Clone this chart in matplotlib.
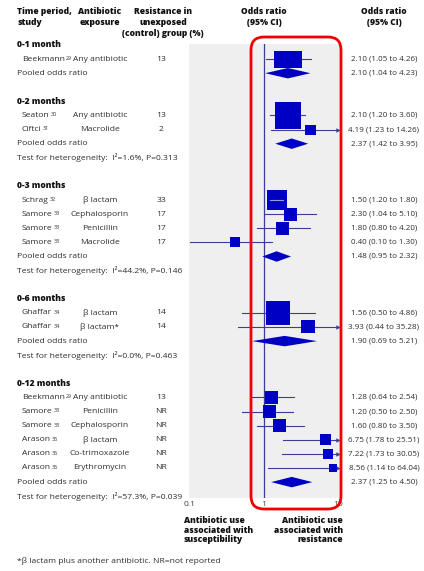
import matplotlib.pyplot as plt
import matplotlib.patches as mpatches
import matplotlib.transforms as mtransforms
from matplotlib.ticker import NullLocator

plt.rcParams['font.family'] = ['Open Sans', 'DejaVu Sans']

# individual studies
period = ['0-1 month',
          '0-2 months', '0-2 months',
          '0-3 months', '0-3 months', '0-3 months', '0-3 months',
          '0-6 months', '0-6 months',
          '0-12 months', '0-12 months', '0-12 months', '0-12 months', '0-12 months', '0-12 months']
study = ['Beekmann',
         'Seaton', 'Ciftci',
         'Schrag', 'Samore', 'Samore', 'Samore',
         'Ghaffar', 'Ghaffar',
         'Beekmann', 'Samore', 'Samore', 'Arason', 'Arason', 'Arason']
ref = ['29', '30', '31', '32', '33', '33', '33', '34', '34', '29', '33', '33', '36', '36', '36']
drug = ['Any antibiotic',
        'Any antibiotic', 'Macrolide',
        'β lactam', 'Cephalosporin', 'Penicillin', 'Macrolide',
        'β lactam', 'β lactam*',
        'Any antibiotic', 'Penicillin', 'Cephalosporin', 'β lactam', 'Co-trimoxazole', 'Erythromycin']
resist = ['13', '13', '2', '33', '17', '17', '17', '14', '14', '13', 'NR', 'NR', 'NR', 'NR', 'NR']
or_est = [2.10, 2.10, 4.19, 1.50, 2.30, 1.80, 0.40, 1.56, 3.93, 1.28, 1.20, 1.60, 6.75, 7.22, 8.56]
or_lo = [1.05, 1.20, 1.23, 1.20, 1.04, 0.80, 0.10, 0.50, 0.44, 0.64, 0.50, 0.80, 1.78, 1.73, 1.14]
or_hi = [4.26, 3.60, 14.26, 1.80, 5.10, 4.20, 1.30, 4.86, 35.28, 2.54, 2.50, 3.50, 25.51, 30.05, 64.04]

# pooled results per period
periods = ['0-1 month', '0-2 months', '0-3 months', '0-6 months', '0-12 months']
pool_est = [2.10, 2.37, 1.48, 1.90, 2.37]
pool_lo = [1.04, 1.42, 0.95, 0.69, 1.25]
pool_hi = [4.23, 3.95, 2.32, 5.21, 4.50]
het_i2 = [None, '1.6', '44.2', '0.0', '57.3']
het_p = [None, '0.313', '0.146', '0.463', '0.039']

# box sizes in pixels (study weight)
box_w = [28, 26, 11, 20, 13, 13, 10, 24, 14, 13, 13, 13, 11, 10, 8]
box_h = [17, 27, 10, 20, 13, 13, 10, 24, 13, 13, 13, 13, 11, 10, 8]

W, H = 424, 571
DEC = 74.0      # pixels per decade
ROW = 14.1      # pixels per row
BLUE = '#0000c4'
LINE = '#3d3d99'
TXT = '#2e2e2e'
FS = 6.1

fig = plt.figure(figsize=(W / 100, H / 100), dpi=100)
ax = fig.add_axes([189 / W, 1 - 498 / H, 151 / W, 454 / H])
ax.set_xscale('log')
ax.set_xlim(0.1 * 10 ** (-1 / DEC), 10 * 10 ** (2 / DEC))
ax.set_ylim((498 - 45) / ROW, (44 - 45) / ROW)
ax.set_facecolor('#efefef')
for s in ax.spines.values():
    s.set_visible(False)
ax.set_yticks([])
ax.set_xticks([0.1, 1, 10])
ax.set_xticklabels(['0.1', '1', '10'])
ax.xaxis.set_minor_locator(NullLocator())
ax.tick_params(axis='x', length=0, pad=2.5, labelsize=FS, labelcolor='#444')
ax.axvline(1, color=LINE, lw=0.9, zorder=1)

tx = mtransforms.blended_transform_factory(fig.transFigure, ax.transData)

# work out rows
rows_hdr, rows_study, rows_pool, rows_het = [], [], [], []
r = 0
for k, p in enumerate(periods):
    rows_hdr.append(r)
    r += 1
    for i in range(len(study)):
        if period[i] == p:
            rows_study.append(r)
            r += 1
    rows_pool.append(r)
    r += 1
    if het_i2[k] is not None:
        rows_het.append(r)
        r += 1
    r += 1

# period headers, pooled rows, heterogeneity rows
het_k = 0
for k, p in enumerate(periods):
    ax.text(17 / W, rows_hdr[k], p, transform=tx, fontsize=FS, fontweight=800,
            color='#111', va='center', ha='left')
    ax.text(17 / W, rows_pool[k], 'Pooled odds ratio', transform=tx, fontsize=FS,
            color=TXT, va='center', ha='left')
    ax.text(384 / W, rows_pool[k], f'{pool_est[k]:.2f} ({pool_lo[k]:.2f} to {pool_hi[k]:.2f})',
            transform=tx, fontsize=5.8, color=TXT, va='center', ha='center')
    yr = rows_pool[k]
    ax.fill([pool_lo[k], pool_est[k], pool_hi[k], pool_est[k]],
            [yr, yr - 0.37, yr, yr + 0.37], color=BLUE, lw=0, zorder=3)
    if het_i2[k] is not None:
        ax.text(17 / W, rows_het[het_k],
                f'Test for heterogeneity:  I²={het_i2[k]}%, P={het_p[k]}',
                transform=tx, fontsize=FS, color=TXT, va='center', ha='left')
        het_k += 1

# studies
for i in range(len(study)):
    yr = rows_study[i]
    t = ax.text(22 / W, yr, study[i], transform=tx, fontsize=FS, color=TXT,
                va='center', ha='left')
    ax.annotate(ref[i], xy=(1, 0.95), xycoords=t, xytext=(1, 0), textcoords='offset points',
                fontsize=3.9, color=TXT, va='top', ha='left')
    ax.text(100 / W, yr, drug[i], transform=tx, fontsize=FS, color=TXT, va='center', ha='center')
    ax.text(161 / W, yr, resist[i], transform=tx, fontsize=FS, color=TXT, va='center', ha='center')
    ax.text(384 / W, yr, f'{or_est[i]:.2f} ({or_lo[i]:.2f} to {or_hi[i]:.2f})',
            transform=tx, fontsize=5.8, color=TXT, va='center', ha='center')

    hi = min(or_hi[i], 10)
    ax.plot([or_lo[i], hi], [yr, yr], color=LINE, lw=0.8, zorder=2)
    if or_hi[i] > 10:
        ax.plot(10, yr, marker='>', ms=3.2, color=LINE, mew=0, zorder=2)
    hw = box_w[i] / 2 / DEC
    x0 = or_est[i] * 10 ** (-hw)
    x1 = or_est[i] * 10 ** hw
    hh = box_h[i] / 2 / ROW
    ax.add_patch(mpatches.Rectangle((x0, yr - hh), x1 - x0, 2 * hh, color=BLUE, lw=0, zorder=3))
    if or_lo[i] > x0 and or_hi[i] < x1:
        ax.plot([or_lo[i], or_hi[i]], [yr, yr], color='#9a9ad8', lw=0.8, zorder=4)

# column headers
hdr = dict(fontsize=FS, fontweight=800, color='#111', va='top', linespacing=1.25)
fig.text(17 / W, 1 - 7 / H, 'Time period,\nstudy', ha='left', **hdr)
fig.text(100 / W, 1 - 7 / H, 'Antibiotic\nexposure', ha='center', multialignment='center', **hdr)
fig.text(163 / W, 1 - 7 / H, 'Resistance in\nunexposed\n(control) group (%)', ha='center',
         multialignment='center', **hdr)
fig.text(264 / W, 1 - 7 / H, 'Odds ratio\n(95% CI)', ha='center', multialignment='center', **hdr)
fig.text(384 / W, 1 - 7 / H, 'Odds ratio\n(95% CI)', ha='center', multialignment='center', **hdr)

# axis side labels
fig.text(184 / W, 1 - 516 / H, 'Antibiotic use\nassociated with\nsusceptibility', ha='left',
         **dict(hdr, linespacing=1.1))
fig.text(343 / W, 1 - 516 / H, 'Antibiotic use\nassociated with\nresistance', ha='right',
         multialignment='right', **dict(hdr, linespacing=1.1))

fig.text(17 / W, 1 - 561 / H, '*β lactam plus another antibiotic. NR=not reported',
         fontsize=FS, color=TXT, va='center', ha='left')

# red highlight box
box = mpatches.FancyBboxPatch((2.51, (H - 509) / 100), 0.90, 4.72,
                              boxstyle='round,pad=0,rounding_size=0.13',
                              transform=fig.dpi_scale_trans, fill=False,
                              ec='#f00000', lw=2.0, zorder=10)
fig.add_artist(box)

fig.savefig('out.png', dpi=100)
